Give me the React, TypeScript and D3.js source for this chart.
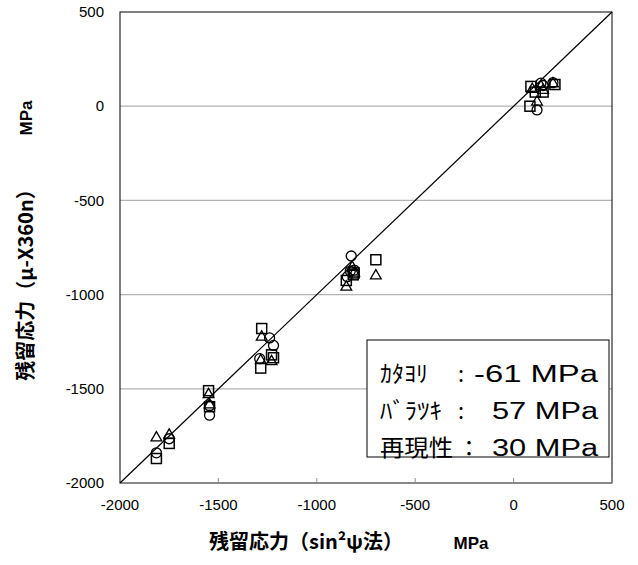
import React, { useEffect, useRef } from 'react';
import * as d3 from 'd3';

const TICKS = [-2000, -1500, -1000, -500, 0, 500];
const GRID = [-1500, -1000, -500, 0];

const squares: [number, number][] = [
  [88, 105], [83, 0], [110, 75], [150, 75], [210, 115],
  [-700, -815], [-810, -885], [-850, -925], [-815, -895],
  [-1280, -1180], [-1230, -1320], [-1285, -1390], [-1220, -1335],
  [-1550, -1510], [-1545, -1595],
  [-1750, -1790], [-1815, -1870],
];

const circles: [number, number][] = [
  [139, 123], [200, 125], [119, -20], [150, 110],
  [-825, -795], [-830, -875], [-845, -905], [-810, -870],
  [-1240, -1230], [-1220, -1270], [-1290, -1340],
  [-1545, -1590], [-1545, -1640],
  [-1750, -1765], [-1815, -1840],
];

const triangles: [number, number][] = [
  [119, 28], [139, 110], [200, 125], [150, 90], [95, 95],
  [-700, -895], [-820, -850], [-850, -955], [-810, -880],
  [-1280, -1220], [-1230, -1350], [-1285, -1345],
  [-1550, -1525], [-1545, -1580],
  [-1815, -1755], [-1750, -1740],
];

const legendLabels = ['ｶﾀﾖﾘ', 'ﾊﾞﾗﾂｷ', '再現性'];
const legendColons = [':', ':', '：'];
const legendValues = ['-61 MPa', '57 MPa', '30 MPa'];

const FONT = '"Liberation Sans", Arial, sans-serif';
const JFONT = '"Noto Sans CJK JP", "Liberation Sans", sans-serif';

const App = () => {
  const svgRef = useRef<SVGSVGElement>(null);

  useEffect(() => {
    const svg = d3.select(svgRef.current);
    svg.selectAll('*').remove();

    const x = d3.scaleLinear().domain([-2000, 500]).range([120, 612]);
    const y = d3.scaleLinear().domain([-2000, 500]).range([483, 12]);

    // gridlines
    svg.selectAll('.grid')
      .data(GRID)
      .enter()
      .append('line')
      .attr('x1', x(-2000))
      .attr('x2', x(500))
      .attr('y1', d => y(d))
      .attr('y2', d => y(d))
      .attr('stroke', '#b3b3b3')
      .attr('stroke-width', 1.3);

    // plot border
    svg.append('rect')
      .attr('x', x(-2000))
      .attr('y', y(500))
      .attr('width', x(500) - x(-2000))
      .attr('height', y(-2000) - y(500))
      .attr('fill', 'none')
      .attr('stroke', '#000')
      .attr('stroke-width', 1);

    // bottom axis (gray) with inner ticks
    svg.append('line')
      .attr('x1', x(-2000)).attr('x2', x(500))
      .attr('y1', y(-2000)).attr('y2', y(-2000))
      .attr('stroke', '#8c8c8c').attr('stroke-width', 1.3);
    svg.selectAll('.xtick')
      .data(TICKS)
      .enter()
      .append('line')
      .attr('x1', d => x(d)).attr('x2', d => x(d))
      .attr('y1', y(-2000)).attr('y2', y(-2000) - 5)
      .attr('stroke', '#8c8c8c');

    // tick labels
    svg.selectAll('.xlab')
      .data(TICKS)
      .enter()
      .append('text')
      .attr('x', d => x(d))
      .attr('y', y(-2000) + 27)
      .attr('text-anchor', 'middle')
      .style('font-family', FONT)
      .style('font-size', '15px')
      .text(d => d);

    svg.selectAll('.ylab')
      .data(TICKS)
      .enter()
      .append('text')
      .attr('x', 104)
      .attr('y', d => y(d))
      .attr('dy', '0.35em')
      .attr('text-anchor', 'end')
      .style('font-family', FONT)
      .style('font-size', '15px')
      .text(d => d);

    // 1:1 line
    svg.append('line')
      .attr('x1', x(-2000)).attr('y1', y(-2000))
      .attr('x2', x(500)).attr('y2', y(500))
      .attr('stroke', '#000').attr('stroke-width', 1.2);

    // markers
    const g = svg.append('g').attr('fill', 'none').attr('stroke', '#000').attr('stroke-width', 1.3);

    g.selectAll('.sq')
      .data(squares)
      .enter()
      .append('rect')
      .attr('x', d => x(d[0]) - 5)
      .attr('y', d => y(d[1]) - 5)
      .attr('width', 10)
      .attr('height', 10)
      .attr('stroke-width', 1.5);

    g.selectAll('.ci')
      .data(circles)
      .enter()
      .append('circle')
      .attr('cx', d => x(d[0]))
      .attr('cy', d => y(d[1]))
      .attr('r', 5);

    const tri = d3.symbol().type(d3.symbolTriangle).size(50);
    g.selectAll('.tr')
      .data(triangles)
      .enter()
      .append('path')
      .attr('transform', d => `translate(${x(d[0])},${y(d[1]) + 1})`)
      .attr('d', tri);

    // legend box
    const lg = svg.append('g');
    lg.append('rect')
      .attr('x', 367).attr('y', 340)
      .attr('width', 242).attr('height', 117)
      .attr('fill', '#fff')
      .attr('stroke', '#000')
      .attr('stroke-width', 1);

    const labelWidths = [48, 62, 73];
    const valueStarts = [474, 492, 492];
    legendLabels.forEach((lab, i) => {
      const yy = 382 + i * 37;
      lg.append('text')
        .attr('x', 380).attr('y', yy)
        .attr('textLength', labelWidths[i])
        .attr('lengthAdjust', 'spacingAndGlyphs')
        .style('font-family', JFONT)
        .style('font-size', '23px')
        .text(lab);
      lg.append('text')
        .attr('x', 458).attr('y', yy)
        .style('font-family', JFONT)
        .style('font-size', '22px')
        .text(legendColons[i]);
      lg.append('text')
        .attr('x', valueStarts[i]).attr('y', yy)
        .attr('textLength', 598 - valueStarts[i])
        .attr('lengthAdjust', 'spacingAndGlyphs')
        .style('font-family', FONT)
        .style('font-size', '23px')
        .text(legendValues[i]);
    });

    // axis titles
    svg.append('text')
      .attr('x', 306).attr('y', 549)
      .attr('text-anchor', 'middle')
      .style('font-family', JFONT)
      .style('font-size', '20px')
      .style('font-weight', 'bold')
      .text('残留応力（sin²ψ法）');
    svg.append('text')
      .attr('x', 471).attr('y', 549)
      .attr('text-anchor', 'middle')
      .style('font-family', FONT)
      .style('font-size', '17px')
      .style('font-weight', 'bold')
      .text('MPa');

    svg.append('text')
      .attr('transform', 'translate(33,280) rotate(-90)')
      .attr('text-anchor', 'middle')
      .style('font-family', JFONT)
      .style('font-size', '20px')
      .style('font-weight', 'bold')
      .text('残留応力（μ-X360n）');
    svg.append('text')
      .attr('transform', 'translate(32,118) rotate(-90)')
      .attr('text-anchor', 'middle')
      .style('font-family', FONT)
      .style('font-size', '17px')
      .style('font-weight', 'bold')
      .text('MPa');
  }, []);

  return (
    <svg
      ref={svgRef}
      width={638}
      height={565}
      style={{ position: 'absolute', left: 0, top: 0, background: '#fff' }}
    />
  );
};

export default App;
